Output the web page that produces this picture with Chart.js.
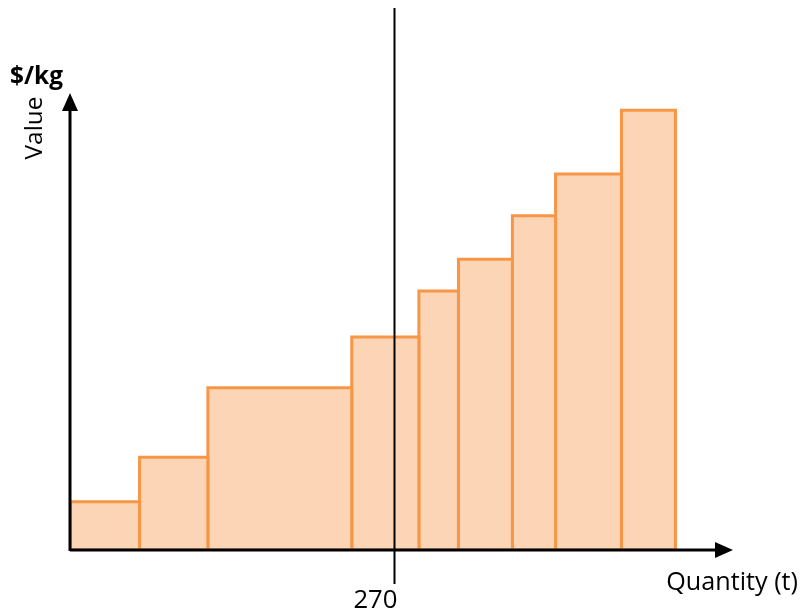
<!DOCTYPE html>
<html>
<head>
<meta charset="utf-8">
<script src="https://cdn.jsdelivr.net/npm/chart.js@4"></script>
<style>
  body { margin: 0; background: #fff; }
  #wrap { width: 805px; height: 611px; }
</style>
</head>
<body>
<div id="wrap"><canvas id="chart" width="805" height="611"></canvas></div>
<script>
// bar edges along the quantity axis (t) and bar heights ($/kg, arbitrary units)
const edges = [0, 58, 115, 235, 291, 324, 369, 405, 460, 505];
const values = [10.9, 21.0, 36.7, 48.2, 58.6, 65.8, 75.6, 85.1, 99.5];
const markQuantity = 270;
const markLabel = "270";
const xTitle = "Quantity (t)";
const yTitle = "Value";
const yUnit = "$/kg";

const fillColor = "rgba(251, 213, 181, 1)";
const lineColor = "rgba(247, 150, 70, 1)";

// each bar is a closed rectangle drawn through the linear scales
const datasets = values.map((v, i) => ({
  data: [
    { x: edges[i], y: 0 },
    { x: edges[i], y: v },
    { x: edges[i + 1], y: v },
    { x: edges[i + 1], y: 0 },
    { x: edges[i], y: 0 }
  ],
  borderColor: lineColor,
  backgroundColor: fillColor,
  borderWidth: 3,
  fill: "shape",
  pointRadius: 0,
  tension: 0
}));

// shrink or grow a font so the text spans the given width
function fitFont(ctx, text, weight, width) {
  ctx.font = weight + " 20px 'Open Sans', sans-serif";
  const size = 20 * width / ctx.measureText(text).width;
  ctx.font = weight + " " + size.toFixed(1) + "px 'Open Sans', sans-serif";
}

const axesPlugin = {
  id: "axes",
  afterDatasetsDraw(chart) {
    const ctx = chart.ctx;
    const xs = chart.scales.x;
    const ys = chart.scales.y;
    const x0 = xs.getPixelForValue(0);
    const y0 = ys.getPixelForValue(0);
    const xEnd = xs.right;
    const yEnd = ys.top;
    ctx.save();
    ctx.strokeStyle = "#000";
    ctx.fillStyle = "#000";
    ctx.lineWidth = 3;
    // x axis
    ctx.beginPath();
    ctx.moveTo(x0, y0);
    ctx.lineTo(xEnd - 14, y0);
    ctx.stroke();
    ctx.beginPath();
    ctx.moveTo(xEnd, y0);
    ctx.lineTo(xEnd - 18, y0 - 8);
    ctx.lineTo(xEnd - 18, y0 + 8);
    ctx.closePath();
    ctx.fill();
    // y axis
    ctx.beginPath();
    ctx.moveTo(x0, y0 + 1);
    ctx.lineTo(x0, yEnd + 14);
    ctx.stroke();
    ctx.beginPath();
    ctx.moveTo(x0, yEnd);
    ctx.lineTo(x0 - 8, yEnd + 18);
    ctx.lineTo(x0 + 8, yEnd + 18);
    ctx.closePath();
    ctx.fill();
    // marker line at 270
    const xm = Math.round(xs.getPixelForValue(markQuantity)) + 0.5;
    ctx.lineWidth = 2;
    ctx.beginPath();
    ctx.moveTo(xm, 8);
    ctx.lineTo(xm, 584);
    ctx.stroke();
    // texts
    ctx.textBaseline = "alphabetic";
    ctx.textAlign = "right";
    fitFont(ctx, markLabel, "normal", 44);
    ctx.fillText(markLabel, xm + 3, 608);
    fitFont(ctx, xTitle, "normal", 132);
    ctx.fillText(xTitle, 798, 590);
    ctx.textAlign = "left";
    fitFont(ctx, yUnit, "bold", 53);
    ctx.fillText(yUnit, 10, 84);
    fitFont(ctx, yTitle, "normal", 63);
    ctx.translate(42, 128);
    ctx.rotate(-Math.PI / 2);
    ctx.textAlign = "center";
    ctx.fillText(yTitle, 0, 0);
    ctx.restore();
  }
};

new Chart(document.getElementById("chart").getContext("2d"), {
  type: "line",
  data: { datasets: datasets },
  options: {
    responsive: false,
    animation: false,
    layout: { padding: { left: 70, right: 72, top: 93, bottom: 61 } },
    scales: {
      x: { type: "linear", min: 0, max: 553, display: false },
      y: { type: "linear", min: 0, max: 103.4, display: false }
    },
    plugins: { legend: { display: false }, tooltip: { enabled: false } }
  },
  plugins: [axesPlugin]
});
</script>
</body>
</html>
